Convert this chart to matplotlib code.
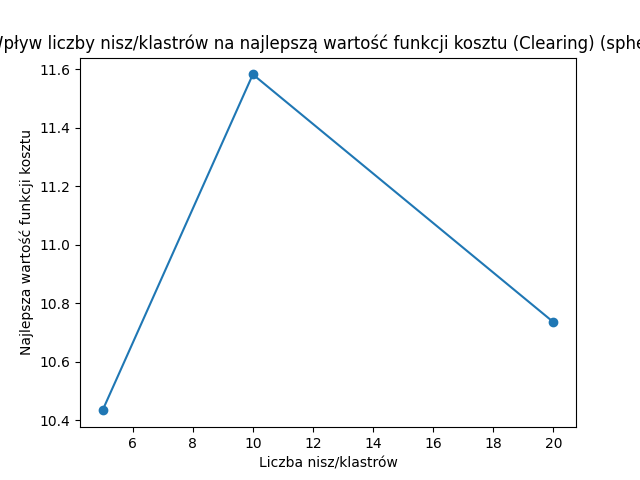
import matplotlib
matplotlib.use('Agg')
import matplotlib.pyplot as plt

niches = [5, 10, 20]
best_cost = [10.433, 11.583, 10.735]

fig, ax = plt.subplots(figsize=(6.4, 4.8), dpi=100)
ax.plot(niches, best_cost, marker='o')
ax.set_title('Wpływ liczby nisz/klastrów na najlepszą wartość funkcji kosztu (Clearing) (sphere)')
ax.set_xlabel('Liczba nisz/klastrów')
ax.set_ylabel('Najlepsza wartość funkcji kosztu')

plt.savefig('out.png')
plt.close(fig)
